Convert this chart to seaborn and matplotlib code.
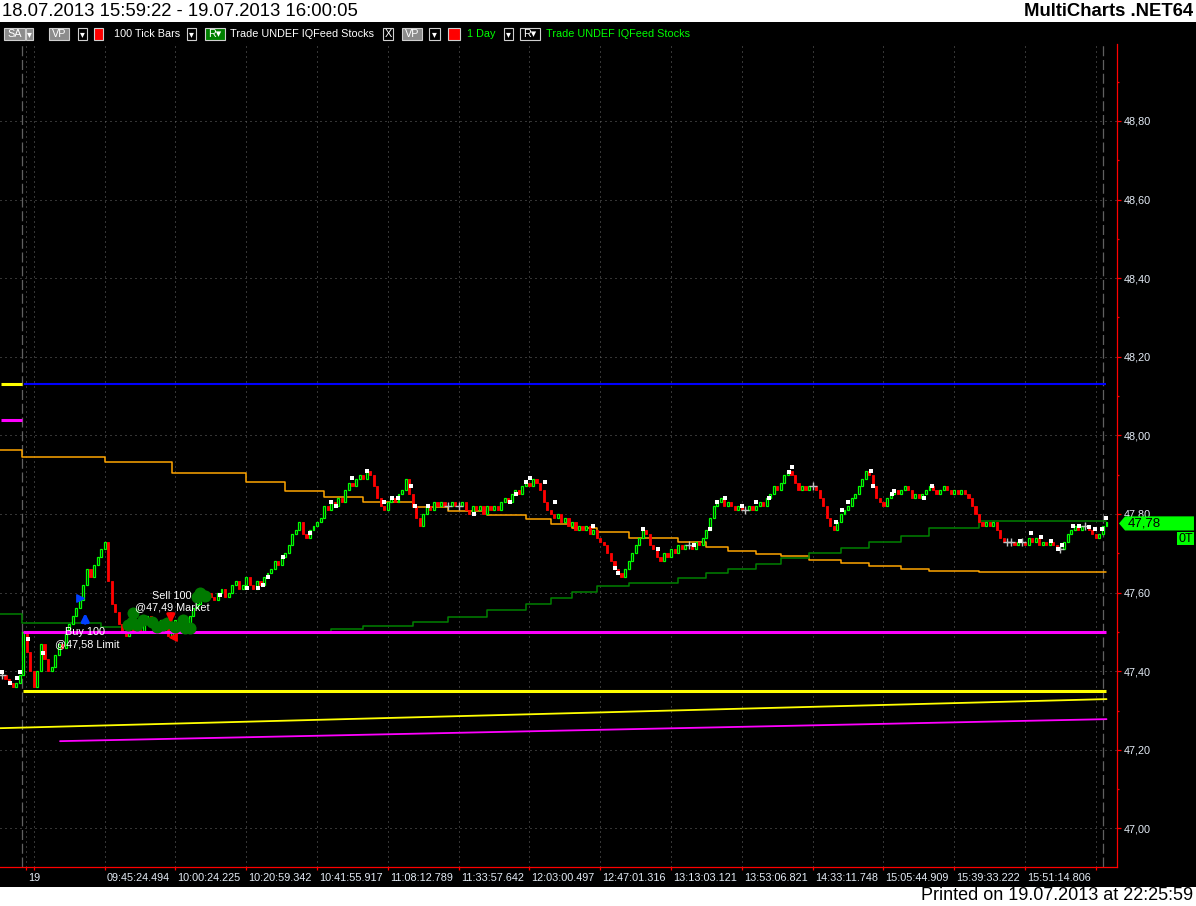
import numpy as np
import pandas as pd
import matplotlib
matplotlib.use("Agg")
import matplotlib.pyplot as plt
import matplotlib.transforms as mtransforms
from matplotlib.patches import Rectangle, Polygon
import seaborn as sns

# ---------------------------------------------------------------
# 100 tick bars - close of every bar (index = bar position)
# ---------------------------------------------------------------
closes = [
    47.39, 47.38, 47.37, 47.36, 47.37, 47.39, 47.50, 47.45, 47.40,
    47.36, 47.40, 47.47, 47.43, 47.40, 47.41, 47.44, 47.47, 47.46, 47.50,
    47.52, 47.54, 47.56, 47.58, 47.62, 47.66, 47.64, 47.67, 47.69, 47.71,
    47.73, 47.63, 47.57, 47.55, 47.52, 47.50, 47.49, 47.51, 47.50, 47.52,
    47.50, 47.52, 47.54, 47.52, 47.50, 47.52, 47.53, 47.51, 47.49, 47.51,
    47.53, 47.51, 47.53, 47.52, 47.54, 47.56, 47.57, 47.59, 47.58, 47.60,
    47.59, 47.58, 47.60, 47.61, 47.59, 47.60, 47.62, 47.63, 47.61, 47.62,
    47.64, 47.62, 47.61, 47.63, 47.62, 47.64, 47.65, 47.66, 47.68, 47.67,
    47.69, 47.70, 47.72, 47.75, 47.76, 47.78, 47.75, 47.74, 47.76, 47.77,
    47.78, 47.79, 47.82, 47.81, 47.83, 47.82, 47.84, 47.83, 47.86, 47.88,
    47.87, 47.89, 47.90, 47.89, 47.91, 47.90, 47.87, 47.84, 47.82, 47.81,
    47.83, 47.84, 47.83, 47.85, 47.86, 47.89, 47.85, 47.82, 47.79, 47.77,
    47.80, 47.82, 47.81, 47.83, 47.82, 47.83, 47.82, 47.82, 47.83, 47.82,
    47.82, 47.83, 47.81, 47.80, 47.82, 47.81, 47.82, 47.80, 47.82, 47.81,
    47.82, 47.81, 47.83, 47.84, 47.83, 47.85, 47.86, 47.85, 47.87, 47.88,
    47.87, 47.89, 47.88, 47.86, 47.83, 47.81, 47.80, 47.79, 47.80, 47.78,
    47.79, 47.77, 47.78, 47.76, 47.77, 47.76, 47.77, 47.75, 47.76, 47.74,
    47.73, 47.72, 47.70, 47.68, 47.66, 47.65, 47.64, 47.66, 47.68, 47.70,
    47.72, 47.74, 47.76, 47.75, 47.72, 47.71, 47.69, 47.68, 47.70, 47.69,
    47.71, 47.70, 47.72, 47.71, 47.72, 47.72, 47.71, 47.73, 47.72, 47.74,
    47.76, 47.79, 47.82, 47.83, 47.84, 47.82, 47.83, 47.82, 47.81, 47.82,
    47.81, 47.81, 47.82, 47.81, 47.82, 47.83, 47.82, 47.84, 47.85, 47.87,
    47.86, 47.88, 47.90, 47.91, 47.90, 47.88, 47.86, 47.87, 47.86, 47.87,
    47.87, 47.86, 47.84, 47.82, 47.79, 47.77, 47.76, 47.78, 47.80, 47.81,
    47.82, 47.84, 47.85, 47.87, 47.89, 47.91, 47.90, 47.87, 47.84, 47.83,
    47.82, 47.84, 47.85, 47.86, 47.85, 47.86, 47.87, 47.86, 47.84, 47.85,
    47.84, 47.85, 47.86, 47.87, 47.86, 47.85, 47.86, 47.87, 47.86, 47.85,
    47.86, 47.85, 47.86, 47.85, 47.84, 47.82, 47.80, 47.78, 47.77, 47.78,
    47.77, 47.78, 47.76, 47.74, 47.73, 47.73, 47.73, 47.72, 47.73, 47.73,
    47.72, 47.74, 47.73, 47.74, 47.72, 47.73, 47.72, 47.73, 47.72, 47.71,
    47.71, 47.73, 47.75, 47.76, 47.77, 47.76, 47.77, 47.77, 47.76, 47.75,
    47.74, 47.75, 47.77, 47.78,
]

# stepped indicator lines (bar where the step starts, value)
orange_idx = [-0.6, 5.6, 29, 48, 69, 80, 91, 102, 116, 126, 137, 148, 155, 161,
              168, 177, 191, 199, 205, 213, 220, 228, 237, 245, 254, 262, 276, 312]
orange_val = [47.963, 47.945, 47.932, 47.904, 47.881, 47.859, 47.843, 47.831,
              47.818, 47.808, 47.797, 47.787, 47.775, 47.764, 47.754, 47.739,
              47.729, 47.716, 47.706, 47.698, 47.693, 47.683, 47.675, 47.668,
              47.660, 47.655, 47.652, 47.652]
green_idx = [-0.6, 5.6, 28, 34, 93, 102, 116, 126, 137, 148, 155, 161, 168,
             177, 191, 199, 205, 213, 220, 228, 237, 245, 254, 262, 276, 312]
green_val = [47.546, 47.523, 47.512, 47.497, 47.507, 47.515, 47.525, 47.538,
             47.556, 47.571, 47.586, 47.602, 47.617, 47.624, 47.637, 47.650,
             47.660, 47.673, 47.688, 47.701, 47.713, 47.729, 47.745, 47.764,
             47.782, 47.782]

# flat levels
blue_level = 48.13
magenta_level = 47.50
yellow_level = 47.35
prev_yellow_level = 48.13
prev_magenta_level = 48.04
session_bar = 5.6
last_bar_line = 311.1

# slowly rising lines (start / end)
yellow_ramp_idx = [-0.6, 312]
yellow_ramp_val = [47.255, 47.329]
magenta_ramp_idx = [16.4, 312]
magenta_ramp_val = [47.222, 47.278]

# white swing dots
dot_idx = [0.0, 2.3, 4.2, 5.0, 7.3, 11.6, 61.6, 69.2, 72.3, 73.7, 75.1, 79.4,
           87.0, 92.9, 94.4, 98.9, 103.1, 107.9, 110.2, 111.9, 115.5, 116.7,
           120.3, 133.3, 143.5, 145.2, 148.0, 149.2, 153.4, 156.2, 167.0,
           173.2, 174.0, 181.1, 185.3, 195.5, 200.0, 202.0, 204.2, 209.0,
           213.0, 216.7, 222.3, 223.2, 235.6, 237.3, 239.0, 245.5, 246.0,
           251.4, 252.0, 260.5, 262.7, 287.6, 290.7, 293.5, 296.3, 298.3,
           299.4, 302.5, 304.2, 307.1, 308.8, 310.7, 311.9]
dot_price = [47.398, 47.370, 47.383, 47.398, 47.482, 47.446, 47.594, 47.612,
             47.612, 47.619, 47.640, 47.691, 47.752, 47.831, 47.820, 47.892,
             47.909, 47.831, 47.841, 47.841, 47.871, 47.820, 47.820, 47.800,
             47.831, 47.851, 47.881, 47.892, 47.881, 47.831, 47.769, 47.663,
             47.650, 47.762, 47.711, 47.721, 47.762, 47.831, 47.841, 47.820,
             47.831, 47.841, 47.907, 47.920, 47.780, 47.810, 47.831, 47.909,
             47.871, 47.851, 47.859, 47.841, 47.871, 47.731, 47.752, 47.741,
             47.731, 47.711, 47.721, 47.769, 47.769, 47.767, 47.762, 47.762,
             47.790]

# green trade bubbles
blob_idx = [37.0, 36.7, 38.1, 35.6, 39.8, 42.4, 43.8, 45.5, 46.6, 48.9, 51.1,
            51.7, 53.1, 55.9, 57.3, 55.1]
blob_price = [47.548, 47.525, 47.518, 47.518, 47.530, 47.525, 47.512, 47.518,
              47.523, 47.512, 47.530, 47.510, 47.510, 47.599, 47.591, 47.589]

# x axis: grid bars and their labels
grid_idx = [6.7, 9, 29, 49, 69, 89, 109, 129, 149, 169, 189, 209, 229, 249,
            269, 289, 309]
time_labels = ["19", "", "09:45:24.494", "10:00:24.225", "10:20:59.342",
               "10:41:55.917", "11:08:12.789", "11:33:57.642", "12:03:00.497",
               "12:47:01.316", "13:13:03.121", "13:53:06.821", "14:33:11.748",
               "15:05:44.909", "15:39:33.222", "15:51:14.806", ""]
price_ticks = [47.0, 47.2, 47.4, 47.6, 47.8, 48.0, 48.2, 48.4, 48.6, 48.8]
price_minor = [47.1, 47.3, 47.5, 47.7, 47.9, 48.1, 48.3, 48.5, 48.7, 48.9]

header_left = "18.07.2013 15:59:22 - 19.07.2013 16:00:05"
header_right = "MultiCharts .NET64"
footer = "Printed on 19.07.2013 at 22:25:59"

# ---------------------------------------------------------------
sns.set_theme(style="dark")
plt.rcParams["font.family"] = ["Liberation Sans", "DejaVu Sans"]

W, H = 1196, 906
fig = plt.figure(figsize=(W / 100, H / 100), dpi=100, facecolor="white")
fig.add_artist(Rectangle((0, 1 - 887 / H), 1, (887 - 22) / H,
                         transform=fig.transFigure, facecolor="black",
                         edgecolor="none", zorder=0))

ax = fig.add_axes([0, 1 - 867 / H, 1117 / W, (867 - 44) / H])
ax.set_facecolor("black")
ax.set_xlim(-0.565, 314.97)
ax.set_ylim(46.9018, 48.9959)

# candles
opens = [closes[0]] + closes[:-1]
df = pd.DataFrame({"bar": np.arange(len(closes)), "open": opens, "close": closes})
df["body"] = df["close"] - df["open"]
up = df[df["body"] > 0.001]
dn = df[df["body"] < -0.001]
flat = df[df["body"].abs() <= 0.001]

ax.bar(up["bar"], up["body"], bottom=up["open"], width=0.55,
       facecolor="black", edgecolor="#00FF00", linewidth=0.9, zorder=4)
ax.bar(dn["bar"], dn["body"], bottom=dn["open"], width=0.62,
       facecolor="#FF0000", edgecolor="#FF0000", linewidth=0.6, zorder=4)
sns.scatterplot(x=flat["bar"], y=flat["close"], marker="+", s=32,
                color="#C0C0C0", linewidth=1.0, ax=ax, zorder=4)

# stepped lines
sns.lineplot(x=orange_idx, y=orange_val, drawstyle="steps-post",
             color="#FFA500", linewidth=1.1, ax=ax, zorder=3)
sns.lineplot(x=green_idx, y=green_val, drawstyle="steps-post",
             color="#008000", linewidth=1.1, ax=ax, zorder=3)

# rising lines
sns.lineplot(x=yellow_ramp_idx, y=yellow_ramp_val, color="#FFFF00",
             linewidth=1.3, ax=ax, zorder=3)
sns.lineplot(x=magenta_ramp_idx, y=magenta_ramp_val, color="#FF00FF",
             linewidth=1.3, ax=ax, zorder=3)

# flat levels
ax.hlines(blue_level, 6.2, 312, color="#0000FF", linewidth=1.5, zorder=5)
ax.hlines(magenta_level, 5.8, 312, color="#FF00FF", linewidth=2.2, zorder=5)
ax.hlines(yellow_level, 5.8, 312, color="#FFFF00", linewidth=2.2, zorder=5)
ax.hlines(prev_yellow_level, -0.4, session_bar, color="#FFFF00", linewidth=2.2, zorder=5)
ax.hlines(prev_magenta_level, -0.4, session_bar, color="#FF00FF", linewidth=2.2, zorder=5)

# session / last bar separators
for xv in (session_bar, last_bar_line):
    ax.axvline(xv, color="#606060", linewidth=0.9, linestyle=(0, (8, 3)), zorder=2)

# white swing dots
sns.scatterplot(x=dot_idx, y=dot_price, marker="s", s=8, color="white",
                linewidth=0, ax=ax, zorder=6)

# trades
sns.scatterplot(x=blob_idx, y=blob_price, s=75, color="#007A00",
                linewidth=0, ax=ax, zorder=6)
ax.annotate("", xy=(23.5, 47.555), xytext=(23.5, 47.515),
            arrowprops=dict(arrowstyle="-|>", color="#0040FF", lw=2.2,
                            mutation_scale=11), zorder=7)
ax.scatter([22.0], [47.585], marker=">", s=28, color="#0040FF", zorder=7)
ax.annotate("", xy=(47.7, 47.515), xytext=(47.7, 47.553),
            arrowprops=dict(arrowstyle="-|>", color="#FF0000", lw=2.2,
                            mutation_scale=11), zorder=7)
ax.scatter([48.4], [47.487], marker="<", s=28, color="#FF0000", zorder=7)
txt_kw = dict(color="white", fontsize=7.8, va="center", ha="left", zorder=8)
ax.text(17.8, 47.500, "Buy 100", **txt_kw)
ax.text(15.0, 47.469, "@47,58 Limit", **txt_kw)
ax.text(42.4, 47.591, "Sell 100", **txt_kw)
ax.text(37.6, 47.563, "@47,49 Market", **txt_kw)

# axes styling
for side in ("left", "top"):
    ax.spines[side].set_visible(False)
for side in ("right", "bottom"):
    ax.spines[side].set_color("#FF0000")
    ax.spines[side].set_linewidth(0.9)

ax.yaxis.tick_right()
ax.set_yticks(price_ticks)
ax.set_yticks(price_minor, minor=True)
ax.set_yticklabels([f"{v:.2f}".replace(".", ",") for v in price_ticks])
ax.tick_params(axis="y", which="major", colors="#FF0000", length=3, width=0.9,
               pad=1.5, labelcolor="#E4ECF6", labelsize=7.8, right=True, left=False)
ax.tick_params(axis="y", which="minor", colors="#FF0000", length=1.5, width=0.9,
               right=True, left=False)

ax.set_xticks(grid_idx)
ax.set_xticklabels(time_labels)
ax.tick_params(axis="x", colors="#FF0000", length=2.5, width=0.9, pad=2,
               labelcolor="#E4ECF6", labelsize=7.8, bottom=True)
shift = mtransforms.ScaledTranslation(1.5 / 72, 0, fig.dpi_scale_trans)
for lbl in ax.get_xticklabels():
    lbl.set_ha("left")
    lbl.set_transform(lbl.get_transform() + shift)

ax.grid(True, which="major", color="#6A6A6A", linewidth=0.72,
        linestyle=(0, (1, 4)))
ax.set_axisbelow(True)
ax.set_xlabel("")
ax.set_ylabel("")

# last price box
bt = mtransforms.blended_transform_factory(ax.transAxes, ax.transData)
last = closes[-1]
yc = last - 0.004
ax.add_patch(Polygon([(1.0018, yc), (1.0072, yc + 0.018), (1.0689, yc + 0.018),
                      (1.0689, yc - 0.018), (1.0072, yc - 0.018)],
                     closed=True, transform=bt, clip_on=False,
                     facecolor="#00FF00", edgecolor="none", zorder=20))
ax.text(1.0100, yc, f"{last:.2f}".replace(".", ","), transform=bt,
        color="black", fontsize=9.5, va="center", ha="left", zorder=21, clip_on=False)
ax.add_patch(Rectangle((1.0537, yc - 0.056), 0.0152, 0.035, transform=bt,
                       clip_on=False, facecolor="#00FF00", edgecolor="none", zorder=20))
ax.text(1.0613, yc - 0.0385, "0T", transform=bt, color="black", fontsize=9,
        va="center", ha="center", zorder=21, clip_on=False)


# toolbar (figure pixel coordinates)
def px_box(x0, x1, fc, ec="#D0D0D0", y0=28, y1=40):
    fig.add_artist(Rectangle((x0 / W, 1 - y1 / H), (x1 - x0) / W, (y1 - y0) / H,
                             transform=fig.transFigure, facecolor=fc,
                             edgecolor=ec, linewidth=0.8, zorder=5))


def px_text(x, s, color="white", ha="left", size=7.8, y=34):
    fig.text(x / W, 1 - y / H, s, color=color, ha=ha, va="center",
             fontsize=size, zorder=6)


px_box(4, 25, "#8C8C8C")
px_text(14.5, "SA", ha="center")
px_box(26, 33, "#8C8C8C")
px_text(29.5, "▾", ha="center", size=7)
px_box(49, 69, "#8C8C8C")
px_text(59, "VP", ha="center")
px_box(78, 87, "black")
px_text(82.5, "▾", ha="center", size=7)
px_box(94, 103, "#FF0000", ec="#D0D0D0")
px_text(114, "100 Tick Bars")
px_box(187, 196, "black")
px_text(191.5, "▾", ha="center", size=7)
px_box(205, 225, "#008000")
px_text(215, "R▾", ha="center")
px_text(230, "Trade UNDEF IQFeed Stocks")
px_box(383, 393, "black")
px_text(388, "X", ha="center")
px_box(402, 422, "#8C8C8C")
px_text(412, "VP", ha="center")
px_box(429, 440, "black")
px_text(434.5, "▾", ha="center", size=7)
px_box(448, 460, "#FF0000")
px_text(467, "1 Day", color="#00FF00")
px_box(504, 513, "black")
px_text(508.5, "▾", ha="center", size=7)
px_box(520, 540, "black")
px_text(530, "R▾", ha="center")
px_text(546, "Trade UNDEF IQFeed Stocks", color="#00FF00")

# header / footer
fig.text(2 / W, 1 - 11 / H, header_left, color="black", fontsize=13.3,
         ha="left", va="center")
fig.text(1193 / W, 1 - 11 / H, header_right, color="black", fontsize=13.3,
         fontweight="bold", ha="right", va="center")
fig.text(1193 / W, 1 - 896 / H, footer, color="black", fontsize=13,
         ha="right", va="center")

fig.savefig("out.png", dpi=100, facecolor="white")
